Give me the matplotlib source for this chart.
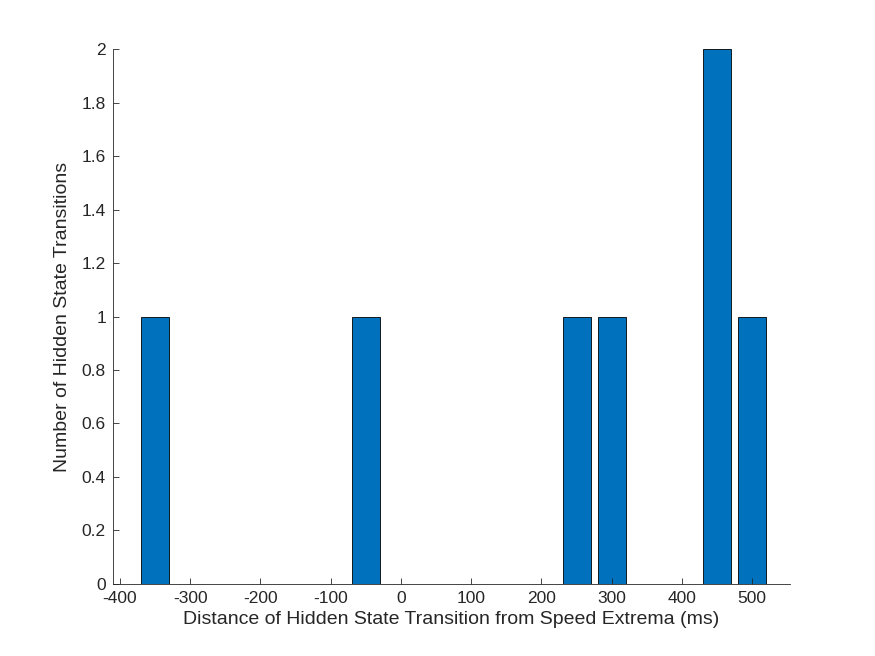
import matplotlib
matplotlib.use('Agg')
import matplotlib.pyplot as plt

# bin centres (ms) and counts
bin_centers = [-350, -300, -250, -200, -150, -100, -50, 0, 50, 100, 150, 200, 250, 300, 350, 400, 450, 500]
counts = [1, 0, 0, 0, 0, 0, 1, 0, 0, 0, 0, 0, 1, 1, 0, 0, 2, 1]
x_ticks = [-400, -300, -200, -100, 0, 100, 200, 300, 400, 500]
y_ticks = [0, 0.2, 0.4, 0.6, 0.8, 1, 1.2, 1.4, 1.6, 1.8, 2]

plt.rcParams['font.family'] = ['Liberation Sans', 'DejaVu Sans']
plt.rcParams['axes.unicode_minus'] = False

fig = plt.figure(figsize=(8.75, 6.56), dpi=100)
ax = fig.add_axes([0.129, 0.11, 0.774, 0.815])
ax.bar(bin_centers, counts, width=40, color='#0072BD', edgecolor='black', linewidth=0.6)

ax.set_xlim(-410, 554)
ax.set_ylim(0, 2)
ax.set_xticks(x_ticks)
ax.set_yticks(y_ticks)
ax.set_yticklabels(['0', '0.2', '0.4', '0.6', '0.8', '1', '1.2', '1.4', '1.6', '1.8', '2'])
ax.tick_params(direction='in', labelsize=12.5, colors='#262626', length=4, width=0.6, pad=5)
for side in ['top', 'right']:
    ax.spines[side].set_visible(False)
for side in ['left', 'bottom']:
    ax.spines[side].set_linewidth(0.6)
    ax.spines[side].set_color('#262626')

ax.set_xlabel('Distance of Hidden State Transition from Speed Extrema (ms)', fontsize=14, color='#262626', labelpad=4)
ax.set_ylabel('Number of Hidden State Transitions', fontsize=14, color='#262626', labelpad=8)

fig.savefig('out.png', dpi=100)
